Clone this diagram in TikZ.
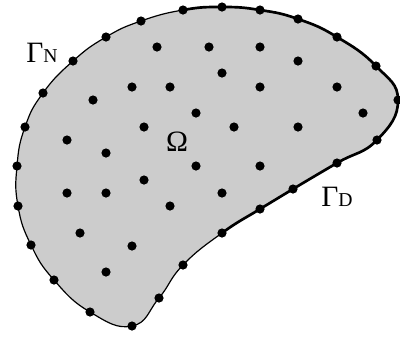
\documentclass[tikz,border=0pt]{standalone}
\usepackage{fontspec}
\setmainfont{Liberation Serif}
\begin{document}
\begin{tikzpicture}[x=0.25mm,y=-0.25mm,
  dot/.style={fill=black,circle,inner sep=0pt,minimum size=2.3mm},
  lbl/.style={inner sep=0pt,font=\fontsize{21}{23}\selectfont},
  thinb/.style={line width=0.85pt},
  thickb/.style={line width=1.9pt}]
\useasboundingbox (0,0) rectangle (400,336);
\def\bnd{(17,166) (25,127) (43,93) (73,61) (106,37) (141,21) (183,10) (222,7) (260,10) (298,19) (337,37) (376,66) (398,100) (377,140) (337,163) (293,189) (260,209) (222,233) (183,265) (159,298) (132,326) (90,312) (54,280) (31,245) (18,206)}
\fill[fill=black!20] plot[smooth cycle,tension=0.8] coordinates {\bnd};
\draw[thinb] plot[smooth cycle,tension=0.8] coordinates {\bnd};
\begin{scope}
\clip (183,-20) -- (183,10) -- (222,233) -- (262,300) -- (420,300) -- (420,-20) -- cycle;
\draw[thickb] plot[smooth cycle,tension=0.8] coordinates {\bnd};
\end{scope}
% boundary dots
\foreach \p [count=\i] in {(17,166),(25,127),(43,93),(73,61),(106,37),(141,21),(183,10),(222,7),(260,10),(298,19),(337,37),(376,66),(398,100),(377,140),(337,163),(293,189),(260,209),(222,233),(183,265),(159,298),(132,326),(90,312),(54,280),(31,245),(18,206)}
  \node[dot] (b\i) at \p {};
% interior dots
\foreach \p [count=\i] in {(157,47),(209,47),(260,47),(298,61),(222,73),(132,87),(170,87),(260,87),(337,87),(93,100),(196,113),(363,113),(144,127),(234,127),(298,127),(67,140),(106,153),(196,166),(260,166),(144,180),(67,193),(106,193),(222,193),(170,206),(80,233),(132,246),(106,272)}
  \node[dot] (n\i) at \p {};
\node[lbl] (gn) at (42,53) {Γ{\fontsize{14}{15}\selectfont N}};
\node[lbl] (om) at (177,142) {Ω};
\node[lbl] (gd) at (337,197) {Γ{\fontsize{14}{15}\selectfont D}};
\end{tikzpicture}
\end{document}
